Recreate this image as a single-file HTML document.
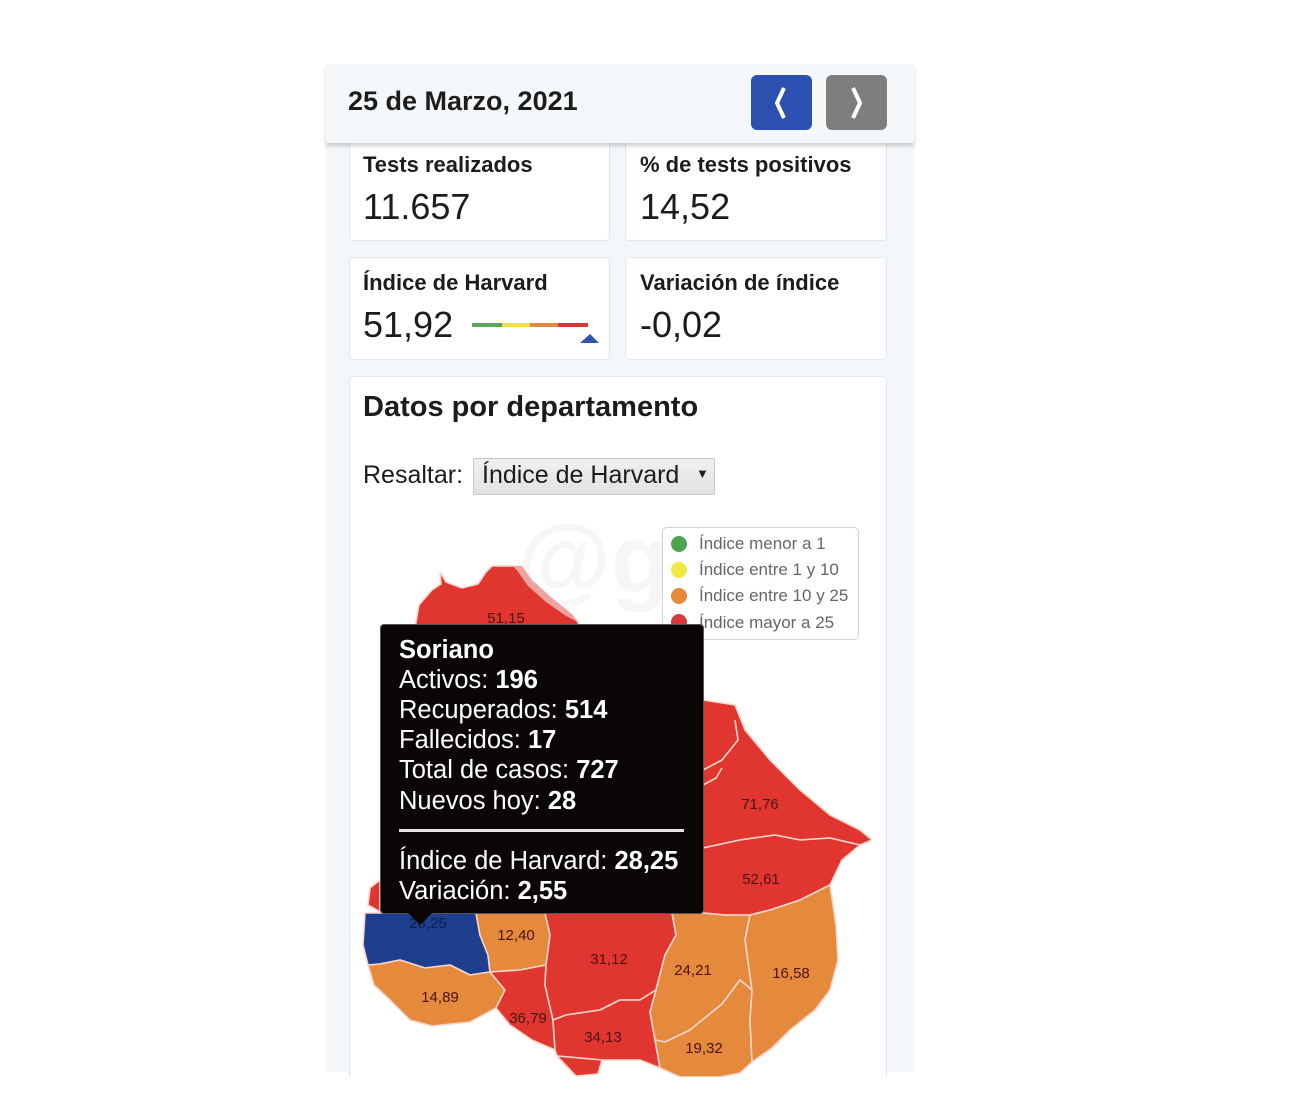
<!DOCTYPE html>
<html><head><meta charset="utf-8">
<style>
*{margin:0;padding:0;box-sizing:border-box}
body{width:1300px;height:1118px;background:#fff;position:relative;overflow:hidden;font-family:"Liberation Sans",Arial,sans-serif;color:#1a1a1a}
.abs{position:absolute}
#panel{left:326px;top:64px;width:588px;height:1008px;background:#f4f7f9}
#hdr{left:326px;top:64px;width:588px;height:79px;background:#f5f8fa;box-shadow:0 3px 4px rgba(0,0,0,0.18);z-index:5}
.card{background:#fff;border:1px solid #e2e7eb;border-radius:4px}
.lbl{font-weight:bold;font-size:22px;color:#1c1c1c;white-space:nowrap}
.val{font-size:36px;color:#1c1c1c;white-space:nowrap}
.lg{font-size:17px;color:#666;white-space:nowrap}
.tt{color:#fff;font-size:25.5px;white-space:nowrap;line-height:30px}
.tt b{font-weight:bold}
.ml{font-size:15px;fill:#4a1414;font-family:"Liberation Sans",Arial,sans-serif}
</style></head><body>
<div class="abs" id="panel"></div>

<!-- stat cards -->
<div class="abs card" style="left:349px;top:130px;width:261px;height:111px"></div>
<div class="abs card" style="left:625px;top:130px;width:262px;height:111px"></div>
<div class="abs card" style="left:349px;top:257px;width:261px;height:103px"></div>
<div class="abs card" style="left:625px;top:257px;width:262px;height:103px"></div>
<div class="abs card" style="left:349px;top:376px;width:538px;height:720px;border-bottom:none"></div>

<div class="abs" id="hdr"></div>
<div class="abs" style="left:348px;top:86px;font-size:27px;font-weight:bold;color:#1c1c1c;z-index:6;white-space:nowrap">25 de Marzo, 2021</div>
<div class="abs" style="left:751px;top:75px;width:61px;height:55px;background:#2c50b0;border-radius:6px;z-index:6"></div>
<div class="abs" style="left:826px;top:75px;width:61px;height:55px;background:#7e7e7e;border-radius:6px;z-index:6"></div>
<svg class="abs" style="left:0;top:0;z-index:7" width="1300" height="200">
<polyline points="784,88 777,103 784,118" fill="none" stroke="#fff" stroke-width="4" stroke-linejoin="round"/>
<polyline points="853,88 860,103 853,118" fill="none" stroke="#fff" stroke-width="4" stroke-linejoin="round"/>
</svg>

<div class="abs lbl" style="left:363px;top:152px">Tests realizados</div>
<div class="abs val" style="left:363px;top:186px">11.657</div>
<div class="abs lbl" style="left:640px;top:152px">% de tests positivos</div>
<div class="abs val" style="left:640px;top:186px">14,52</div>
<div class="abs lbl" style="left:363px;top:270px">Índice de Harvard</div>
<div class="abs val" style="left:363px;top:304px">51,92</div>
<div class="abs lbl" style="left:640px;top:270px">Variación de índice</div>
<div class="abs val" style="left:640px;top:304px">-0,02</div>
<svg class="abs" style="left:0;top:0" width="1300" height="400">
<rect x="472" y="323" width="30" height="4" fill="#5aa65a"/>
<rect x="502" y="323" width="28" height="4" fill="#eee04a"/>
<rect x="530" y="323" width="28" height="4" fill="#df8a3c"/>
<rect x="558" y="323" width="30" height="4" fill="#cf3b3b"/>
<polygon points="580,343 590,334 599,343" fill="#2e55a8"/>
</svg>

<div class="abs" style="left:363px;top:391px;font-size:29px;font-weight:bold;color:#1c1c1c;white-space:nowrap">Datos por departamento</div>
<div class="abs" style="left:363px;top:461px;font-size:25px;color:#1c1c1c;white-space:nowrap">Resaltar:</div>
<div class="abs" style="left:473px;top:458px;width:242px;height:37px;background:linear-gradient(#f0f0f0,#e2e2e2);border:1px solid #c8c8c8;border-radius:2px"></div>
<div class="abs" style="left:482px;top:461px;font-size:25px;color:#1c1c1c;white-space:nowrap">Índice de Harvard</div>
<div class="abs" style="left:696px;top:466px;font-size:13px;color:#222">▼</div>

<!-- watermark -->
<div class="abs" style="left:517px;top:505px;font-size:96px;font-weight:bold;color:#f6f6f6;white-space:nowrap">@ges</div>

<!-- map -->
<svg class="abs" style="left:0;top:0" width="1300" height="1118">
<g stroke="#f6d6cc" stroke-width="1.6" stroke-linejoin="round">
<!-- Artigas -->
<path d="M415,628 L419,605 L432,590 L441,584 L440,572 L446,582 L462,588 L478,584 L486,572 L492,566 L514,566 L530,582 L552,600 L568,612 L578,622 L580,630 Z" fill="#e0362f"/>
<path d="M514,566 L522,566 L532,580 L552,598 L572,614 L578,622 L566,616 L546,602 L528,586 Z" fill="#eea3a0" stroke="none"/>
<!-- behind tooltip northern body -->
<path d="M580,630 L640,640 L703,705 L735,705 L745,730 L770,760 L800,790 L830,815 L860,830 L872,840 L860,845 L830,838 L800,840 L775,835 L740,840 L703,848 Z" fill="#e0362f"/>
<path d="M703,700 L735,705 L745,730 L770,760 L800,790 L830,815 L860,830 L872,840 L860,845 L830,838 L800,840 L775,835 L740,840 L703,848 Z" fill="#e0362f"/>
<path d="M703,770 L722,760 L738,740 L735,720" fill="none"/>
<path d="M703,785 L716,778 L722,768" fill="none"/>
<!-- Treinta y Tres -->
<path d="M703,848 L740,840 L775,835 L800,840 L830,838 L860,845 L842,860 L830,885 L800,900 L770,910 L750,915 L725,915 L703,913 Z" fill="#e0362f"/>
<!-- western red bits -->
<path d="M368,905 L370,888 L380,880 L380,912 Z" fill="#e0362f"/>
<!-- Soriano -->
<path d="M365,913 L476,913 L480,935 L488,955 L490,972 L470,975 L450,965 L425,968 L400,960 L380,964 L368,965 L363,945 Z" fill="#1e3f8f"/>
<!-- Colonia -->
<path d="M368,965 L380,964 L400,960 L425,968 L450,965 L470,975 L490,972 L505,990 L496,1008 L470,1022 L432,1026 L410,1020 L390,1000 L374,985 Z" fill="#e5893c"/>
<!-- Flores -->
<path d="M476,913 L545,913 L550,935 L546,965 L520,970 L490,972 L488,955 L480,935 Z" fill="#e5893c"/>
<!-- San José -->
<path d="M490,972 L520,970 L546,965 L545,985 L553,1020 L555,1050 L532,1040 L510,1025 L496,1008 L505,990 Z" fill="#e0362f"/>
<!-- Florida -->
<path d="M545,913 L672,913 L676,935 L665,955 L656,990 L640,1000 L620,1000 L600,1010 L566,1015 L553,1020 L545,985 L546,965 L550,935 Z" fill="#e0362f"/>
<!-- Canelones -->
<path d="M553,1020 L566,1015 L600,1010 L620,1000 L640,1000 L656,990 L650,1012 L655,1040 L660,1068 L640,1060 L602,1060 L557,1056 L555,1050 Z" fill="#e0362f"/>
<!-- Montevideo -->
<path d="M557,1056 L602,1060 L598,1074 L576,1076 Z" fill="#e0362f"/>
<!-- Lavalleja -->
<path d="M672,913 L703,913 L725,915 L750,915 L745,940 L752,990 L740,980 L722,1004 L690,1030 L665,1042 L655,1040 L650,1012 L656,990 L665,955 L676,935 Z" fill="#e5893c"/>
<!-- Maldonado -->
<path d="M655,1040 L665,1042 L690,1030 L722,1004 L740,980 L752,990 L750,1020 L752,1062 L740,1073 L720,1077 L680,1077 L660,1068 Z" fill="#e5893c"/>
<!-- Rocha -->
<path d="M750,915 L770,910 L800,900 L830,885 L836,925 L838,960 L830,990 L815,1010 L790,1030 L772,1048 L752,1062 L750,1020 L752,990 L745,940 Z" fill="#e5893c"/>
</g>
<text class="ml" x="506" y="623" text-anchor="middle">51,15</text>
<text class="ml" x="760" y="809" text-anchor="middle">71,76</text>
<text class="ml" x="761" y="884" text-anchor="middle">52,61</text>
<text class="ml" x="428" y="928" text-anchor="middle" style="fill:#0d1d4a">28,25</text>
<text class="ml" x="516" y="940" text-anchor="middle">12,40</text>
<text class="ml" x="609" y="964" text-anchor="middle">31,12</text>
<text class="ml" x="693" y="975" text-anchor="middle">24,21</text>
<text class="ml" x="791" y="978" text-anchor="middle">16,58</text>
<text class="ml" x="440" y="1002" text-anchor="middle">14,89</text>
<text class="ml" x="528" y="1023" text-anchor="middle">36,79</text>
<text class="ml" x="603" y="1042" text-anchor="middle">34,13</text>
<text class="ml" x="704" y="1053" text-anchor="middle">19,32</text>
</svg>

<!-- white below panel -->
<div class="abs" style="left:0;top:1077px;width:1300px;height:41px;background:#fff"></div>

<!-- legend -->
<div class="abs" style="left:662px;top:527px;width:197px;height:113px;background:rgba(255,255,255,0.9);border:1px solid #d2d2d2;border-radius:5px"></div>
<svg class="abs" style="left:0;top:0" width="1300" height="700">
<circle cx="679" cy="544" r="8" fill="#4ea44e"/>
<circle cx="679" cy="570" r="8" fill="#f2e843"/>
<circle cx="679" cy="596" r="8" fill="#e8883a"/>
<circle cx="679" cy="622" r="8" fill="#d63a3a"/>
</svg>
<div class="abs lg" style="left:699px;top:534px">Índice menor a 1</div>
<div class="abs lg" style="left:699px;top:560px">Índice entre 1 y 10</div>
<div class="abs lg" style="left:699px;top:586px">Índice entre 10 y 25</div>
<div class="abs lg" style="left:699px;top:613px">Índice mayor a 25</div>

<!-- tooltip -->
<div class="abs" style="left:380px;top:624px;width:324px;height:290px;background:#0a0606;border:1px solid #555;border-radius:4px"></div>
<svg class="abs" style="left:0;top:0" width="1300" height="1118">
<polygon points="407,912 433,912 420,925" fill="#0a0606"/>
<rect x="399" y="829" width="285" height="3" fill="#e8e0e0"/>
</svg>
<div class="abs tt" style="left:399px;top:635px"><b>Soriano</b></div>
<div class="abs tt" style="left:399px;top:665px">Activos: <b>196</b></div>
<div class="abs tt" style="left:399px;top:695px">Recuperados: <b>514</b></div>
<div class="abs tt" style="left:399px;top:725px">Fallecidos: <b>17</b></div>
<div class="abs tt" style="left:399px;top:755px">Total de casos: <b>727</b></div>
<div class="abs tt" style="left:399px;top:786px">Nuevos hoy: <b>28</b></div>
<div class="abs tt" style="left:399px;top:846px">Índice de Harvard: <b>28,25</b></div>
<div class="abs tt" style="left:399px;top:876px">Variación: <b>2,55</b></div>
</body></html>
